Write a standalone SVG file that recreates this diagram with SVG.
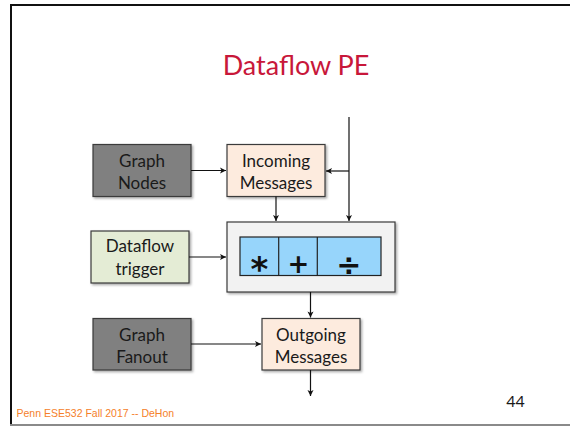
<svg xmlns="http://www.w3.org/2000/svg" width="570" height="426" viewBox="0 0 570 426">
  <style>
    .node { stroke: #3a3a3a; stroke-width: 1.2; }
    .gray { fill: #808080; }
    .peach { fill: #fdebde; }
    .green { fill: #e4ecd5; }
    .label { font-family: Lato, "Open Sans", sans-serif; font-size: 17px; fill: #1a1a1a; text-anchor: middle; }
    .op { font-family: "DejaVu Sans", sans-serif; font-weight: bold; fill: #111; text-anchor: middle; }
    .wire { fill: none; stroke: #111; stroke-width: 1.2; }
  </style>
  <defs>
    <marker id="arrow" markerUnits="userSpaceOnUse" markerWidth="8" markerHeight="8" viewBox="0 0 8 8" refX="7" refY="4" orient="auto">
      <path d="M1,1 L7,4 L1,7 L2.5,4 Z" fill="#111"/>
    </marker>
    <filter id="shadow" x="-10%" y="-10%" width="125%" height="130%">
      <feDropShadow dx="1.5" dy="1.5" stdDeviation="0.8" flood-color="#000" flood-opacity="0.35"/>
    </filter>
  </defs>

  <rect width="570" height="426" fill="#fff"/>

  <!-- slide frame -->
  <g id="frame">
    <line x1="10" y1="5" x2="570" y2="5" stroke="#111" stroke-width="2"/>
    <line x1="11" y1="4" x2="11" y2="426" stroke="#111" stroke-width="2"/>
    <line x1="10" y1="425" x2="570" y2="425" stroke="#8a8a8a" stroke-width="2"/>
  </g>

  <text id="title" x="296" y="75" font-family="Lato, 'Open Sans', sans-serif" font-size="27" fill="#c8173a" text-anchor="middle">Dataflow PE</text>

  <g id="graph-nodes">
    <rect class="node gray" x="93" y="144.5" width="98" height="52" filter="url(#shadow)"/>
    <text class="label" x="142" y="166.5">Graph</text>
    <text class="label" x="142" y="189">Nodes</text>
  </g>

  <g id="incoming-messages">
    <rect class="node peach" x="227" y="144.5" width="98" height="52" filter="url(#shadow)"/>
    <text class="label" x="276" y="166.5">Incoming</text>
    <text class="label" x="276" y="189">Messages</text>
  </g>

  <g id="dataflow-trigger">
    <rect class="node green" x="91" y="231" width="98" height="52" filter="url(#shadow)"/>
    <text class="label" x="140" y="252">Dataflow</text>
    <text class="label" x="140" y="275">trigger</text>
  </g>

  <g id="pe">
    <rect class="node" x="227" y="222" width="168" height="70" fill="#f2f2f2" filter="url(#shadow)"/>
    <rect x="240" y="237" width="141" height="38.5" fill="#97d5fb" stroke="#222" stroke-width="1.2"/>
    <line x1="278.7" y1="237" x2="278.7" y2="275.5" stroke="#222" stroke-width="1.2"/>
    <line x1="317.3" y1="237" x2="317.3" y2="275.5" stroke="#222" stroke-width="1.2"/>
    <text class="op" x="259.5" y="281" font-size="34">*</text>
    <text class="op" x="298.3" y="273" font-size="26">+</text>
    <text class="op" x="348.8" y="275" font-size="30">÷</text>
  </g>

  <g id="graph-fanout">
    <rect class="node gray" x="93" y="318.5" width="98" height="51.5" filter="url(#shadow)"/>
    <text class="label" x="142" y="340.5">Graph</text>
    <text class="label" x="142" y="363">Fanout</text>
  </g>

  <g id="outgoing-messages">
    <rect class="node peach" x="262" y="318.5" width="98" height="51.5" filter="url(#shadow)"/>
    <text class="label" x="311" y="340.5">Outgoing</text>
    <text class="label" x="311" y="363">Messages</text>
  </g>

  <g id="connectors">
    <path class="wire" d="M191,170.5 H226" marker-end="url(#arrow)"/>
    <path class="wire" d="M349,117 V221" marker-end="url(#arrow)"/>
    <path class="wire" d="M349,171 H326" marker-end="url(#arrow)"/>
    <path class="wire" d="M276,196.5 V221" marker-end="url(#arrow)"/>
    <path class="wire" d="M189,257 H226" marker-end="url(#arrow)"/>
    <path class="wire" d="M310.5,292 V317.5" marker-end="url(#arrow)"/>
    <path class="wire" d="M191,344 H261" marker-end="url(#arrow)"/>
    <path class="wire" d="M310.5,370 V396" marker-end="url(#arrow)"/>
  </g>

  <g id="footer">
    <text x="16.5" y="416.5" font-family="'Liberation Sans', Arial, sans-serif" font-size="10.5" fill="#f5802a">Penn ESE532 Fall 2017 -- DeHon</text>
    <text x="515.5" y="406.5" font-family="Lato, 'Open Sans', sans-serif" font-size="16" fill="#1a1a1a" text-anchor="middle">44</text>
  </g>
</svg>
